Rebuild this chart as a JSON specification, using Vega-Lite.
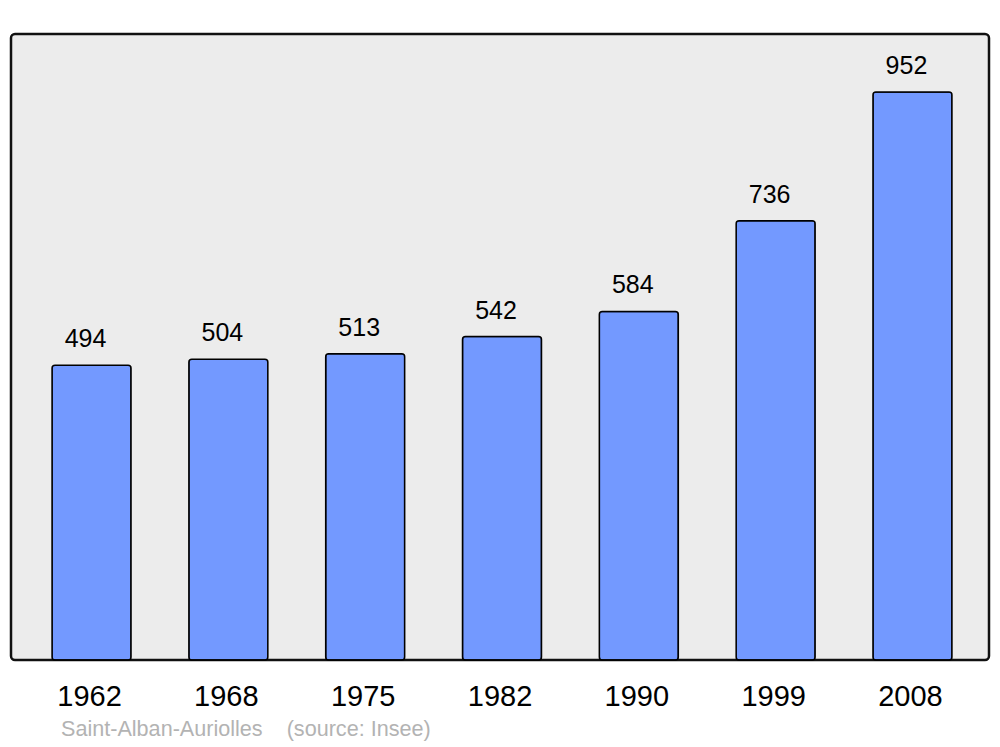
{
  "$schema": "https://vega.github.io/schema/vega-lite/v6.json",
  "width": 978,
  "height": 626,
  "autosize": "none",
  "padding": {"left": 11, "top": 34, "right": 11, "bottom": 87},
  "background": "white",
  "config": {
    "font": "Liberation Sans",
    "view": {"fill": "#ececec", "stroke": "#111111", "strokeWidth": 2.5, "cornerRadius": 4}
  },
  "title": {
    "text": "Saint-Alban-Auriolles \u00a0\u00a0\u00a0(source: Insee)",
    "orient": "bottom",
    "anchor": "start",
    "frame": "group",
    "dx": 50,
    "offset": 8,
    "fontSize": 21.6,
    "fontWeight": "normal",
    "color": "#b3b3b3",
    "font": "Liberation Sans"
  },
  "data": {
    "values": [
      {"year": "1962", "pop": 494},
      {"year": "1968", "pop": 504},
      {"year": "1975", "pop": 513},
      {"year": "1982", "pop": 542},
      {"year": "1990", "pop": 584},
      {"year": "1999", "pop": 736},
      {"year": "2008", "pop": 952}
    ]
  },
  "encoding": {
    "x": {
      "field": "year",
      "type": "nominal",
      "sort": null,
      "scale": {"paddingInner": 0.4227, "paddingOuter": 0.3, "range": [0, 982]},
      "axis": {
        "title": null,
        "labelAngle": 0,
        "ticks": false,
        "domain": false,
        "labelFontSize": 29,
        "labelColor": "#000000",
        "labelPadding": 22,
        "labelOffset": -2,
        "labelFont": "Liberation Sans"
      }
    },
    "y": {
      "field": "pop",
      "type": "quantitative",
      "scale": {"domain": [0, 1049], "nice": false},
      "axis": null
    }
  },
  "layer": [
    {
      "mark": {"type": "bar", "fill": "#7399ff", "stroke": "#000000", "strokeWidth": 1.5, "cornerRadius": 3}
    },
    {
      "mark": {"type": "text", "baseline": "alphabetic", "dy": -18, "dx": -6, "fontSize": 25, "color": "#000000", "font": "Liberation Sans"},
      "encoding": {"text": {"field": "pop", "type": "quantitative"}}
    }
  ]
}
